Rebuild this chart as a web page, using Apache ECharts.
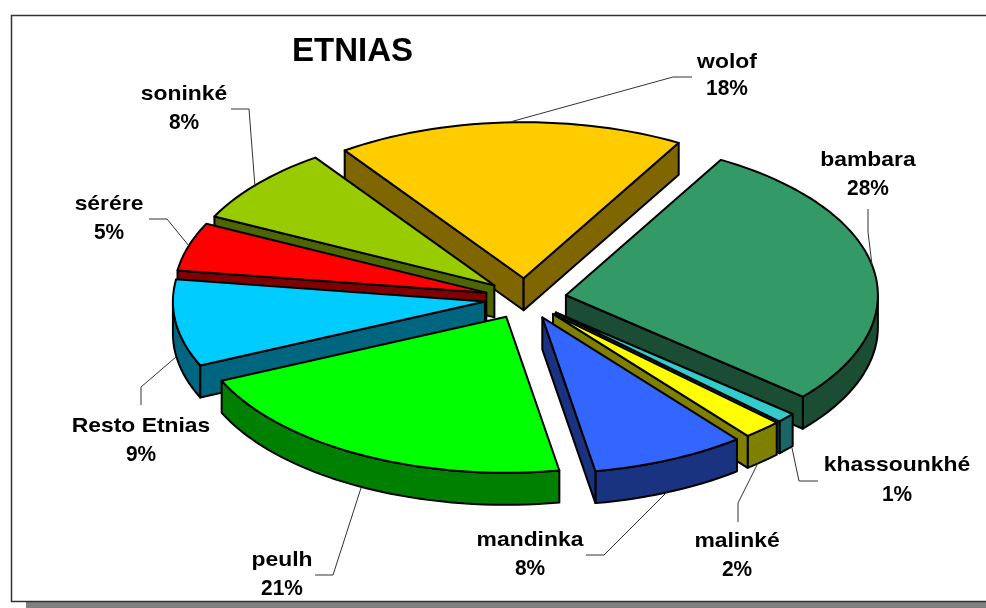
<!DOCTYPE html>
<html>
<head>
<meta charset="utf-8">
<style>html,body{margin:0;padding:0;background:#fff}#c{width:986px;height:608px}</style>
<script src="https://cdn.jsdelivr.net/npm/echarts@6/dist/echarts.min.js"></script>
</head>
<body>
<div id="c"></div>
<script>
// ---- data ----
const categories = ['wolof','bambara','khassounkhé','malinké','mandinka','peulh','Resto Etnias','sérére','soninké'];
const shares = [18,28,1,2,8,21,9,5,8];
const chartTitle = 'ETNIAS';

// ---- styles ----
const topColors  = ['#FFCC00','#339966','#33CCCC','#FFFF00','#3366FF','#00FF00','#00CCFF','#FF0000','#99CC00'];
const sideColors = ['#806600','#1A4D33','#1A6666','#808000','#1A3380','#008000','#006680','#800000','#4D6600'];

// ---- layout ----
const CX = 525.5, CY = 298.7, RX = 312, RY = 156, DEPTH = 32, EXPLODE_X = 41, EXPLODE_Y = 20.5, START = 125;
const labelCenters = [[727,62,89],[868,160,189],[897,465,495],[737,541,570],[530,540,569],[282,560,589],[141,426,455],[109,204,233],[184,94,123]];
const leaders = [
  [[692,77],[673,77],[510,122]],
  [[868,209],[868,232],[872,265]],
  [[818,481],[799,481],[792,448]],
  [[738,522],[738,503],[758,463]],
  [[586,555],[604,555],[667,492]],
  [[315,575],[333,575],[361,488]],
  [[141,405],[141,387],[176,357]],
  [[149,219],[167,219],[189,246]],
  [[231,109],[249,109],[255,187]]
];
const FONT = '"Liberation Sans",Arial,sans-serif';

const total = shares.reduce((a,b)=>a+b,0);
const rad = d => d*Math.PI/180;
const slices = [];
let acc = START;
shares.forEach((v)=>{
  const t1 = acc, t2 = acc - v/total*360, m = (t1+t2)/2;
  const ax = CX + EXPLODE_X*Math.cos(rad(m)), ay = CY - EXPLODE_Y*Math.sin(rad(m));
  slices.push({t1,t2,ax,ay});
  acc = t2;
});
const order = slices.map((s,i)=>i).sort((a,b)=>slices[a].ay-slices[b].ay);

function rimPoint(s,t,dz){ return [s.ax+RX*Math.cos(rad(t)), s.ay-RY*Math.sin(rad(t))+dz]; }
function arc(s,a,b,dz){ // from angle a down to angle b
  const n = Math.max(2,Math.ceil((a-b)/2)), pts=[];
  for(let i=0;i<=n;i++) pts.push(rimPoint(s,a+(b-a)*i/n,dz));
  return pts;
}
function poly(points,fill,z2){
  return {type:'polygon',z2,shape:{points},style:{fill,stroke:'#000',lineWidth:2,lineJoin:'round'},silent:true};
}
function frontRanges(t1,t2){ // parts of [t2,t1] where sin<0
  const out=[];
  for(let k=-2;k<=1;k++){
    const hi=Math.min(t1,360*k), lo=Math.max(t2,360*k-180);
    if(hi>lo) out.push([hi,lo]);
  }
  return out;
}
function renderSlice(params,api){
  const i = params.dataIndex, s = slices[i], name = categories[i], value = api.value(0);
  const z = (order.indexOf(i)+1)*10;
  const kids = [];
  kids.push({type:'polyline',z2:500,shape:{points:leaders[i]},style:{fill:null,stroke:'#333',lineWidth:1},silent:true});
  frontRanges(s.t1,s.t2).forEach(([a,b])=>{
    const pts = arc(s,a,b,0).concat(arc(s,a,b,DEPTH).reverse());
    kids.push(poly(pts,sideColors[i],z));
  });
  const apex=[s.ax,s.ay], apexD=[s.ax,s.ay+DEPTH];
  if(Math.cos(rad(s.t1))<0) kids.push(poly([apex,rimPoint(s,s.t1,0),rimPoint(s,s.t1,DEPTH),apexD],sideColors[i],z+1));
  if(Math.cos(rad(s.t2))>0) kids.push(poly([apex,rimPoint(s,s.t2,0),rimPoint(s,s.t2,DEPTH),apexD],sideColors[i],z+1));
  kids.push(poly([apex].concat(arc(s,s.t1,s.t2,0)),topColors[i],z+2));
  const lc = labelCenters[i];
  kids.push({type:'text',z2:600,x:lc[0],y:lc[1],scaleX:1.09,silent:true,style:{text:name,fontFamily:FONT,fontWeight:'bold',fontSize:21,fill:'#000',align:'center',verticalAlign:'middle'}});
  kids.push({type:'text',z2:600,x:lc[0],y:lc[2],scaleX:0.95,silent:true,style:{text:value+'%',fontFamily:FONT,fontWeight:'bold',fontSize:22,fill:'#000',align:'center',verticalAlign:'middle'}});
  return {type:'group',children:kids};
}

const chart = echarts.init(document.getElementById('c'),null,{renderer:'canvas'});
chart.setOption({
  animation:false,
  backgroundColor:'#fff',
  title:{text:chartTitle,left:292,top:35,padding:0,textStyle:{fontFamily:FONT,fontWeight:'bold',fontSize:33,color:'#000'}},
  graphic:[
    {type:'rect',z:-2,silent:true,shape:{x:26,y:30,width:970,height:590},style:{fill:'#808080'}},
    {type:'rect',z:-1,silent:true,shape:{x:11.5,y:15.5,width:990,height:586},style:{fill:'#fff',stroke:'#333',lineWidth:1.5}}
  ],
  series:[{type:'custom',coordinateSystem:'none',silent:true,clip:false,
    data:shares.map((v,i)=>({name:categories[i],value:[v]})),
    renderItem:renderSlice}]
});
</script>
</body>
</html>
